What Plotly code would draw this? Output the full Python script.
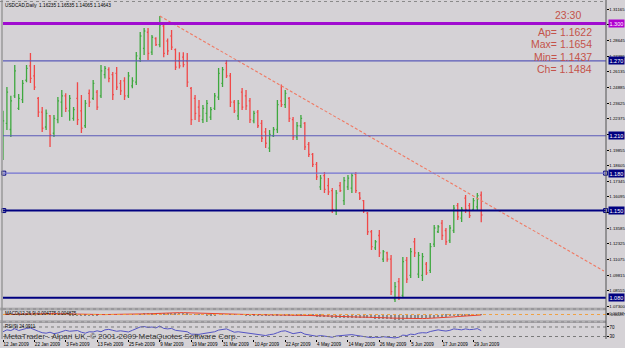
import plotly.graph_objects as go

# ---------------- data ----------------
title_text = "USDCAD,Daily  1.16235 1.16535 1.14065 1.14643"

open_ = [1.1950, 1.2200, 1.2150, 1.2420, 1.2320, 1.2390, 1.2545, 1.2660, 1.2580, 1.2400,
         1.2290, 1.2170, 1.2260, 1.2120, 1.2230, 1.2370, 1.2420, 1.2300, 1.2240, 1.2400,
         1.2300, 1.2180, 1.2440, 1.2400, 1.2450, 1.2420, 1.2590, 1.2630, 1.2590, 1.2600,
         1.2520, 1.2540, 1.2420, 1.2500, 1.2530, 1.2720, 1.2800, 1.2930, 1.2770, 1.2880,
         1.2830, 1.2980, 1.2860, 1.2900, 1.2790, 1.2700, 1.2730, 1.2700, 1.2480, 1.2400,
         1.2330, 1.2230, 1.2280, 1.2250, 1.2320, 1.2410, 1.2520, 1.2680, 1.2580, 1.2370,
         1.2260, 1.2450, 1.2420, 1.2380, 1.2220, 1.2290, 1.2200, 1.2130, 1.2000, 1.2100,
         1.2150, 1.2380, 1.2350, 1.2400, 1.2230, 1.2090, 1.2180, 1.2200, 1.2030, 1.1950,
         1.1870, 1.1690, 1.1780, 1.1700, 1.1660, 1.1500, 1.1700, 1.1580, 1.1690, 1.1680,
         1.1790, 1.1640, 1.1580, 1.1480, 1.1330, 1.1200, 1.1300, 1.1110, 1.1160, 1.1110,
         1.0790, 1.0930, 1.0820, 1.1100, 1.0980, 1.1250, 1.0990, 1.0980, 1.1070, 1.1020,
         1.1230, 1.1330, 1.1400, 1.1340, 1.1260, 1.1340, 1.1540, 1.1440, 1.1600, 1.1540,
         1.1510, 1.1530, 1.16235]
high_ = [1.2300, 1.2491, 1.2420, 1.2667, 1.2435, 1.2547, 1.2667, 1.2764, 1.2667, 1.2410,
         1.2330, 1.2310, 1.2267, 1.2267, 1.2410, 1.2467, 1.2440, 1.2427, 1.2330, 1.2530,
         1.2427, 1.2387, 1.2470, 1.2547, 1.2467, 1.2667, 1.2660, 1.2650, 1.2611, 1.2651,
         1.2547, 1.2570, 1.2611, 1.2570, 1.2772, 1.2932, 1.2964, 1.2964, 1.2908, 1.2890,
         1.3060, 1.2988, 1.2880, 1.2948, 1.2800, 1.2770, 1.2770, 1.2764, 1.2490, 1.2427,
         1.2387, 1.2347, 1.2387, 1.2330, 1.2443, 1.2643, 1.2651, 1.2708, 1.2603, 1.2387,
         1.2387, 1.2483, 1.2467, 1.2403, 1.2300, 1.2307, 1.2226, 1.2162, 1.2146, 1.2170,
         1.2387, 1.2510, 1.2467, 1.2410, 1.2250, 1.2210, 1.2267, 1.2210, 1.2050, 1.1962,
         1.1890, 1.1785, 1.1810, 1.1761, 1.1681, 1.1665, 1.1729, 1.1769, 1.1785, 1.1801,
         1.1810, 1.1649, 1.1585, 1.1489, 1.1344, 1.1264, 1.1344, 1.1184, 1.1170, 1.1144,
         1.0927, 1.0959, 1.1128, 1.1128, 1.1200, 1.1280, 1.1168, 1.1160, 1.1088, 1.1240,
         1.1384, 1.1384, 1.1424, 1.1360, 1.1384, 1.1545, 1.1561, 1.1529, 1.1625, 1.1561,
         1.1601, 1.1641, 1.16535]
low_ = [1.1906, 1.2146, 1.2090, 1.2403, 1.2307, 1.2363, 1.2530, 1.2523, 1.2467, 1.2250,
        1.2130, 1.2146, 1.2010, 1.2090, 1.2200, 1.2250, 1.2290, 1.2220, 1.2220, 1.2186,
        1.2122, 1.2162, 1.2330, 1.2387, 1.2307, 1.2403, 1.2560, 1.2530, 1.2387, 1.2467,
        1.2427, 1.2387, 1.2403, 1.2480, 1.2507, 1.2691, 1.2748, 1.2708, 1.2748, 1.2820,
        1.2810, 1.2730, 1.2748, 1.2788, 1.2627, 1.2640, 1.2650, 1.2490, 1.2186, 1.2226,
        1.2210, 1.2202, 1.2210, 1.2226, 1.2307, 1.2387, 1.2491, 1.2563, 1.2330, 1.2283,
        1.2226, 1.2307, 1.2307, 1.2202, 1.2200, 1.2162, 1.2050, 1.2002, 1.1970, 1.2090,
        1.2122, 1.2330, 1.2323, 1.2210, 1.2066, 1.2066, 1.2162, 1.1986, 1.1930, 1.1850,
        1.1745, 1.1665, 1.1641, 1.1625, 1.1481, 1.1465, 1.1649, 1.1545, 1.1665, 1.1641,
        1.1641, 1.1585, 1.1481, 1.1304, 1.1184, 1.1184, 1.1128, 1.1088, 1.1090, 1.0823,
        1.0767, 1.0783, 1.0799, 1.0919, 1.0959, 1.1128, 1.0959, 1.0935, 1.0983, 1.0999,
        1.1208, 1.1320, 1.1264, 1.1224, 1.1240, 1.1320, 1.1424, 1.1408, 1.1481, 1.1440,
        1.1505, 1.1505, 1.14065]
close_ = [1.2220, 1.2450, 1.2380, 1.2620, 1.2400, 1.2520, 1.2640, 1.2560, 1.2490, 1.2290,
          1.2160, 1.2280, 1.2106, 1.2240, 1.2380, 1.2420, 1.2320, 1.2400, 1.2310, 1.2230,
          1.2160, 1.2360, 1.2370, 1.2520, 1.2330, 1.2620, 1.2640, 1.2560, 1.2430, 1.2490,
          1.2460, 1.2420, 1.2580, 1.2540, 1.2740, 1.2900, 1.2940, 1.2760, 1.2890, 1.2830,
          1.2990, 1.2760, 1.2780, 1.2810, 1.2650, 1.2660, 1.2670, 1.2530, 1.2230, 1.2280,
          1.2260, 1.2320, 1.2360, 1.2310, 1.2420, 1.2600, 1.2630, 1.2580, 1.2370, 1.2300,
          1.2360, 1.2330, 1.2340, 1.2230, 1.2280, 1.2180, 1.2080, 1.2040, 1.2110, 1.2150,
          1.2350, 1.2350, 1.2440, 1.2240, 1.2090, 1.2180, 1.2240, 1.2010, 1.1950, 1.1870,
          1.1770, 1.1760, 1.1670, 1.1650, 1.1510, 1.1640, 1.1660, 1.1740, 1.1760, 1.1780,
          1.1660, 1.1600, 1.1500, 1.1330, 1.1210, 1.1250, 1.1160, 1.1170, 1.1110, 1.0850,
          1.0890, 1.0800, 1.1090, 1.0950, 1.1170, 1.1160, 1.1140, 1.1130, 1.1000, 1.1210,
          1.1360, 1.1370, 1.1300, 1.1250, 1.1360, 1.1520, 1.1450, 1.1510, 1.1510, 1.1460,
          1.1580, 1.1620, 1.14643]

macd_main = [2, 4, 6, 8, 9, 10, 11, 12, 11, 10, 8,
             6, 4, 3, 2, 1, 0, -1, -1, -1, -2, -2, -2, -1, -1, 0,
             1, 1, 1, 1, 0, 0, 0, 1,
             3, 6, 9, 12, 14, 15, 17,
             17, 16, 15, 14, 12, 11, 9,
             5, 3, 1, 0, -1, -1, -1, 0,
             1, 2, 2, 1, 0, 0, -1, -2,
             -3, -4, -6, -8, -9, -9, -8,
             -7, -6, -6, -6, -7, -7, -8, -10, -12,
             -14, -16, -18, -20, -22, -23, -23, -23, -23, -22, -22, -22, -23,
             -25, -28, -30, -32, -33, -34, -36, -38, -39,
             -38, -37, -35, -33, -31, -29, -28, -25, -22,
             -19, -16, -14, -12, -9, -7, -5, -3, -2, 0, 1, 1]
macd_signal = [0, 1, 1, 2, 3, 4, 5, 6, 7, 8, 9,
               9, 8, 7, 6, 5, 4, 3, 2, 1, 0, 0, -1, -1, -1, -1,
               -1, 0, 0, 0, 0, 0, 0, 0,
               1, 2, 3, 4, 6, 8, 10,
               12, 13, 14, 15, 15, 15, 14,
               13, 11, 9, 7, 5, 3, 2, 1,
               0, 0, 0, 0, 0, 0, 0, 0,
               -1, -1, -2, -3, -4, -5, -6,
               -7, -7, -7, -7, -7, -7, -7, -7, -8,
               -9, -10, -11, -13, -14, -16, -17, -19, -20, -21, -21, -22, -22,
               -22, -23, -24, -25, -27, -28, -30, -31, -33,
               -34, -35, -35, -35, -35, -34, -33, -32, -31,
               -29, -27, -25, -22, -20, -17, -15, -12, -10, -8, -6, -4]
rsi = [50, 58, 55, 63, 55, 60, 64, 66, 58, 52, 46,
       44, 48, 42, 45, 52, 56, 52, 54, 55, 48, 44, 50, 49, 54, 50,
       58, 60, 56, 52, 54, 50, 49, 56,
       64, 70, 72, 68, 70, 66, 74,
       64, 62, 64, 56, 55, 54, 50,
       40, 38, 39, 42, 45, 46, 50, 57,
       60, 62, 55, 48, 50, 48, 47, 42,
       41, 40, 36, 34, 38, 40, 46,
       52, 54, 47, 42, 45, 48, 40, 37, 34,
       31, 34, 31, 30, 27, 32, 34, 36, 38, 38, 35, 33, 30,
       27, 25, 27, 26, 29, 28, 25, 24, 27,
       36, 34, 40, 38, 44, 46, 45, 51, 55,
       58, 55, 53, 56, 62, 60, 58, 62, 59, 60, 63, 55]

date_labels = ["12 Jan 2009", "22 Jan 2009", "3 Feb 2009", "13 Feb 2009", "25 Feb 2009",
               "9 Mar 2009", "19 Mar 2009", "31 Mar 2009", "10 Apr 2009", "22 Apr 2009",
               "4 May 2009", "14 May 2009", "26 May 2009", "5 Jun 2009", "17 Jun 2009",
               "29 Jun 2009"]
date_tick_bars = [0, 8, 16, 24, 32, 40, 48, 56, 64, 72, 80, 88, 96, 104, 112, 120]

# price scale labels (those hidden behind the level boxes are left blank)
price_ticks = [1.31165, 1.29905, 1.28645, 1.27395, 1.26135, 1.24885, 1.23625, 1.22375,
               1.21115, 1.19855, 1.18605, 1.17345, 1.16095, 1.14835, 1.13585, 1.12325,
               1.11075, 1.09815, 1.08555, 1.07300]
price_tick_text = ["1.31165", "", "1.28645", "1.27395", "1.26135", "1.24885", "1.23625",
                   "1.22375", "", "1.19855", "1.18605", "1.17345", "1.16095", "",
                   "1.13585", "1.12325", "1.11075", "1.09815", "1.08555", "1.07300"]

level_values = [1.300, 1.270, 1.210, 1.180, 1.150, 1.080]
level_labels = ["1.300", "1.270", "1.210", "1.180", "1.150", "1.080"]
level_colors = ["#a00cd0", "#5a5ab8", "#5a5ab8", "#7272d2", "#000080", "#000080"]
level_widths = [3, 1.2, 1.2, 1.2, 2, 2]
level_boxes = ["#b000d0", "#000080", "#000080", "#000080", "#000080", "#000080"]
level_squares = [1.180, 1.150]

trend_x = [40, 153.3]
trend_y = [1.3060, 1.1015]

info_lines = ["Ap= 1.1622", "Max= 1.1654", "Min= 1.1437", "Ch= 1.1484"]
clock_text = "23:30"

# ---------------- layout helpers ----------------
W, H = 625, 348
BG = "#d5d2d6"
def fx(px):
    return px / W
def fy(py):
    return 1 - py / H

bars = list(range(len(open_)))
PXB = 3.92
x_range = [0.0, 603 / PXB]
# main pane: price 1.31165 at 9px, 0.000802 per px, pane 3..308 px
main_range = [1.31165 - (308 - 9) * 0.000802, 1.31165 + (9 - 3) * 0.000802]

fig = go.Figure()

fig.add_trace(go.Ohlc(
    x=bars, open=open_, high=high_, low=low_, close=close_,
    increasing=dict(line=dict(color="#3ea83e", width=1.3)),
    decreasing=dict(line=dict(color="#f04848", width=1.3)),
    tickwidth=0.3, xaxis="x", yaxis="y", hoverinfo="skip"))

fig.add_trace(go.Scatter(
    x=trend_x, y=trend_y, mode="lines", xaxis="x", yaxis="y",
    line=dict(color="#f07a64", width=1.1, dash="3px,2px"), hoverinfo="skip"))

for lv in level_squares:
    fig.add_trace(go.Scatter(
        x=[x_range[0] + 0.2, x_range[1] - 0.1], y=[lv, lv], mode="markers",
        xaxis="x", yaxis="y", cliponaxis=False,
        marker=dict(symbol="square-open", size=4, color="#000080", line=dict(width=1)),
        hoverinfo="skip"))

# MACD pane
fig.add_trace(go.Bar(x=bars, y=macd_main, xaxis="x", yaxis="y2", width=0.3,
                     marker=dict(color="#8a8a8a", line=dict(width=0)), hoverinfo="skip"))
fig.add_trace(go.Scatter(x=bars, y=macd_signal, xaxis="x", yaxis="y2", mode="lines",
                         line=dict(color="#e8402c", width=1), hoverinfo="skip"))
# RSI pane
fig.add_trace(go.Scatter(x=bars, y=rsi, xaxis="x", yaxis="y3", mode="lines",
                         line=dict(color="#5454c4", width=1), hoverinfo="skip"))

shapes = []
for lv, col, wd in zip(level_values, level_colors, level_widths):
    shapes.append(dict(type="line", xref="paper", yref="y", x0=fx(3), x1=fx(606),
                       y0=lv, y1=lv, line=dict(color=col, width=wd)))
# MACD zero line (orange dotted)
shapes.append(dict(type="line", xref="paper", yref="y2", x0=fx(3), x1=fx(606), y0=0, y1=0,
                   line=dict(color="#f0a040", width=1, dash="dot")))
# RSI levels
for lv in [70, 30]:
    shapes.append(dict(type="line", xref="paper", yref="y3", x0=fx(3), x1=fx(606), y0=lv, y1=lv,
                       line=dict(color="#7a7a7a", width=1, dash="dot")))
# pane separators
for (a, b) in [(307.8, 310.3), (320.6, 323.0)]:
    shapes.append(dict(type="rect", xref="paper", yref="paper", x0=fx(0), x1=fx(606),
                       y0=fy(b), y1=fy(a), fillcolor="#9a989c", line=dict(width=0)))
shapes.append(dict(type="line", xref="paper", yref="paper", x0=fx(0), x1=fx(606),
                   y0=fy(309.0), y1=fy(309.0), line=dict(color="#c8c8c8", width=0.8, dash="dot")))
shapes.append(dict(type="line", xref="paper", yref="paper", x0=fx(0), x1=fx(606),
                   y0=fy(321.8), y1=fy(321.8), line=dict(color="#c8c8c8", width=0.8, dash="dot")))
# borders
shapes.append(dict(type="line", xref="paper", yref="paper", x0=fx(2), x1=fx(2),
                   y0=fy(339), y1=fy(0), line=dict(color="#8a8a8a", width=1.2)))
shapes.append(dict(type="line", xref="paper", yref="paper", x0=fx(0), x1=fx(606),
                   y0=fy(1.5), y1=fy(1.5), line=dict(color="#8a8a8a", width=1, dash="dot")))
shapes.append(dict(type="line", xref="paper", yref="paper", x0=fx(606), x1=fx(606),
                   y0=fy(339), y1=fy(0), line=dict(color="#505050", width=1)))

TXT_RED = "#c4524a"
annotations = []
annotations.append(dict(xref="paper", yref="paper", x=fx(3), y=fy(5), text=title_text,
                        showarrow=False, xanchor="left", yanchor="middle",
                        font=dict(size=4.7, color="#000000")))
annotations.append(dict(xref="paper", yref="paper", x=fx(567.5), y=fy(15), text=clock_text,
                        showarrow=False, xanchor="center", yanchor="middle",
                        font=dict(size=10.5, color=TXT_RED)))
for k, t in enumerate(info_lines):
    annotations.append(dict(xref="paper", yref="paper", x=fx(594), y=fy(32 + 12.4 * k), text=t,
                            showarrow=False, xanchor="right", yanchor="middle",
                            font=dict(size=10.5, color=TXT_RED)))
for lv, lab, bc in zip(level_values, level_labels, level_boxes):
    annotations.append(dict(xref="paper", yref="y", x=fx(607.5), y=lv, text=lab,
                            showarrow=False, xanchor="left", yanchor="middle",
                            bgcolor=bc, borderpad=0.5,
                            font=dict(size=5.5, color="#ffffff")))
annotations.append(dict(xref="paper", yref="paper", x=fx(3), y=fy(313.5),
                        text="MACD(12,26,9) 0.004775 0.004875", showarrow=False,
                        xanchor="left", yanchor="middle", font=dict(size=4.5, color="#000000")))
annotations.append(dict(xref="paper", yref="paper", x=fx(3), y=fy(326.5),
                        text="RSI(9) 24.0911", showarrow=False,
                        xanchor="left", yanchor="middle", font=dict(size=4.5, color="#000000")))
annotations.append(dict(xref="paper", yref="paper", x=fx(2), y=fy(336.5),
                        text="MetaTrader - Alpari UK, © 2001-2009 MetaQuotes Software Corp.",
                        showarrow=False, xanchor="left", yanchor="middle",
                        font=dict(size=8, color="#3a3a3a")))

axis_common = dict(automargin=False, showgrid=False, zeroline=False, showline=False,
                   fixedrange=True)

fig.update_layout(
    width=W, height=H, margin=dict(l=0, r=0, t=0, b=0, autoexpand=False),
    paper_bgcolor=BG, plot_bgcolor=BG, showlegend=False, bargap=0,
    font=dict(family="Liberation Sans, Arial, sans-serif"),
    shapes=shapes, annotations=annotations,
    xaxis=dict(domain=[fx(3), fx(606)], range=x_range, anchor="y3",
               tickvals=date_tick_bars, ticktext=date_labels, tickangle=0,
               ticklabelposition="outside right", ticks="outside", ticklen=2,
               tickcolor="#000000", tickfont=dict(size=4.6, color="#000000"),
               rangeslider=dict(visible=False), **axis_common),
    yaxis=dict(domain=[fy(308), fy(3)], range=main_range, anchor="x", side="right",
               tickvals=price_ticks, ticktext=price_tick_text,
               ticks="outside", ticklen=1.5, tickcolor="#000000",
               tickfont=dict(size=4.3, color="#000000"), **axis_common),
    yaxis2=dict(domain=[fy(320.5), fy(310.5)], range=[-50, 33], anchor="x", side="right",
                tickvals=[4, -4], ticktext=["0.00737", "-0.00097"],
                ticks="outside", ticklen=1.5, tickcolor="#000000",
                tickfont=dict(size=4, color="#000000"), **axis_common),
    yaxis3=dict(domain=[fy(339), fy(323)], range=[19.5, 86.8], anchor="x", side="right",
                tickvals=[70, 30], ticktext=["70", "30"],
                ticks="outside", ticklen=1.5, tickcolor="#000000",
                tickfont=dict(size=4.5, color="#000000"), **axis_common),
)

fig.write_html("out.html")
